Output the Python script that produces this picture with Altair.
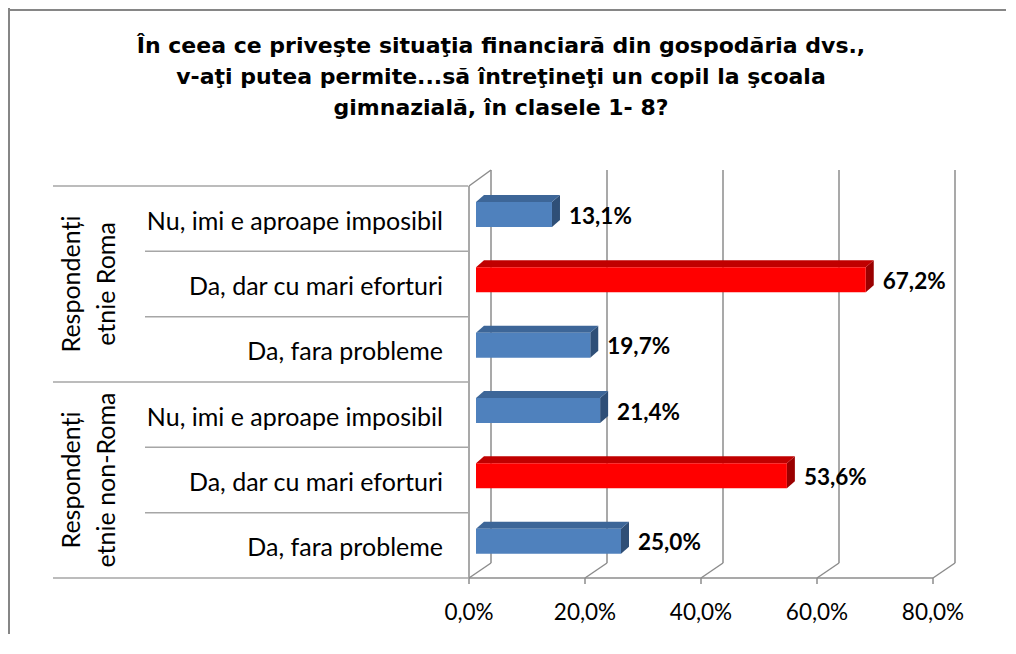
import altair as alt
import pandas as pd

# ---------------- data ----------------
title_lines = [
    "În ceea ce priveşte situaţia financiară din gospodăria dvs.,",
    "v-aţi putea permite...să întreţineţi un copil la şcoala",
    "gimnazială, în clasele 1- 8?",
]
group_names = [["Respondenți", "etnie Roma"], ["Respondenți", "etnie non-Roma"]]
categories = ["Nu, imi e aproape imposibil", "Da, dar cu mari eforturi", "Da, fara probleme"]
roma_values = [13.1, 67.2, 19.7]
non_roma_values = [21.4, 53.6, 25.0]
tick_values = [0, 20, 40, 60, 80]
tick_labels = ["0,0%", "20,0%", "40,0%", "60,0%", "80,0%"]
highlight_category = "Da, dar cu mari eforturi"

# ---------------- layout / style ----------------
W, H = 998, 626
X_RANGE = [461, 925]
Y_RANGE = [178, 570]
N_ROWS = 6
PX_X = (X_RANGE[1] - X_RANGE[0]) / (tick_values[-1] - tick_values[0])
PX_ROW = (Y_RANGE[1] - Y_RANGE[0]) / N_ROWS
BAR_SHIFT = 7
FACE_TOP, FACE_BOTTOM = 16, 41
BAR_DX, BAR_DY = 8, 7
WALL_DX, WALL_DY = 22, 15
GRID = "#8c8c8c"
TABLE = "#a6a6a6"
LABEL_FONT = "Lato"
TITLE_FONT = "DejaVu Sans"

face_keys = ["front_n", "front_h", "top_n", "top_h", "side_n", "side_h"]
face_colors = ["#4f81bd", "#ff0000", "#3d6698", "#c00000", "#2f4f77", "#9a0000"]

xs = alt.Scale(domain=[tick_values[0], tick_values[-1]], range=X_RANGE, nice=False, zero=False)
ys = alt.Scale(domain=[0, N_ROWS], range=Y_RANGE, nice=False, zero=False)
cs = alt.Scale(domain=face_keys, range=face_colors)

rows = []
for g, vals in enumerate([roma_values, non_roma_values]):
    for c, (cat, v) in enumerate(zip(categories, vals)):
        rows.append(dict(
            id=g * 3 + c, category=cat, value=v,
            kind="h" if cat == highlight_category else "n",
            label=f"{v:.1f}%".replace(".", ","),
        ))
bars = pd.DataFrame(rows)
shift = BAR_SHIFT / PX_X
ddx = BAR_DX / PX_X
ddy = BAR_DY / PX_ROW
bars["xa"] = tick_values[0]
bars["x0"] = shift
bars["x1"] = shift + bars["value"]
bars["y_top"] = bars["id"] + FACE_TOP / PX_ROW
bars["y_bot"] = bars["id"] + FACE_BOTTOM / PX_ROW
bars["y_mid"] = bars["id"] + 0.5
bars["face"] = "front_" + bars["kind"]

top_rows, side_rows = [], []
for r in bars.itertuples():
    top_rows.append(dict(id=r.id, y=r.y_top, xa=r.x0, xb=r.x1, face="top_" + r.kind))
    top_rows.append(dict(id=r.id, y=r.y_top - ddy, xa=r.x0 + ddx, xb=r.x1 + ddx, face="top_" + r.kind))
    side_rows.append(dict(id=r.id, x=r.x1, ya=r.y_top, yb=r.y_bot, face="side_" + r.kind))
    side_rows.append(dict(id=r.id, x=r.x1 + ddx, ya=r.y_top - ddy, yb=r.y_bot - ddy, face="side_" + r.kind))
tops = pd.DataFrame(top_rows)
sides = pd.DataFrame(side_rows)

ticks = pd.DataFrame({"t": tick_values, "label": tick_labels})
ticks["y0"] = 0
ticks["y1"] = N_ROWS
axis_df = pd.DataFrame({"xa": [tick_values[0]], "xb": [tick_values[-1]], "ya": [0], "yb": [N_ROWS]})
bounds = pd.DataFrame({"b": list(range(N_ROWS + 1))})
bounds["xa"] = tick_values[0]
bounds["kind"] = ["group" if b % 3 == 0 else "cat" for b in bounds["b"]]
groups = pd.DataFrame({"name": group_names, "yc": [1.5, 4.5]})
title_df = pd.DataFrame({"text": [title_lines]})
# chart frame (left and top edges), in scale units
frame_df = pd.DataFrame({
    "fx0": [(0 - X_RANGE[0]) / PX_X], "fx1": [(W - X_RANGE[0]) / PX_X],
    "fy0": [(0 - Y_RANGE[0]) / PX_ROW], "fy1": [(H - Y_RANGE[0]) / PX_ROW],
})


def X(f):
    return alt.X(f, type="quantitative", scale=xs, axis=None)


def Y(f):
    return alt.Y(f, type="quantitative", scale=ys, axis=None)


# ---------------- layers ----------------
grid_back = alt.Chart(ticks).mark_rule(
    color=GRID, strokeWidth=1.5, xOffset=WALL_DX, yOffset=-WALL_DY - 1, y2Offset=-WALL_DY
).encode(x=X("t"), y=Y("y0"), y2="y1")

grid_floor = alt.Chart(ticks).mark_rule(
    color=GRID, strokeWidth=1.5, x2Offset=WALL_DX, y2Offset=-WALL_DY
).encode(x=X("t"), x2="t", y=Y("y1"), y2="y1")

tick_marks = alt.Chart(ticks).mark_rule(color=GRID, strokeWidth=1.5, y2Offset=6).encode(
    x=X("t"), y=Y("y1"), y2="y1"
)

base_line = alt.Chart(axis_df).mark_rule(color=GRID, strokeWidth=1.5).encode(
    x=X("xa"), x2="xb", y=Y("yb"), y2="yb"
)
left_axis = alt.Chart(axis_df).mark_rule(color=GRID, strokeWidth=1.5).encode(
    x=X("xa"), x2="xa", y=Y("ya"), y2="yb"
)
corner = alt.Chart(axis_df).mark_rule(
    color=GRID, strokeWidth=1.5, x2Offset=WALL_DX, y2Offset=-WALL_DY - 1
).encode(x=X("xa"), x2="xa", y=Y("ya"), y2="ya")

table_group = alt.Chart(bounds).transform_filter(alt.datum.kind == "group").mark_rule(
    color=TABLE, strokeWidth=1.5, xOffset=-416, x2Offset=-1
).encode(x=X("xa"), x2="xa", y=Y("b"), y2="b")
table_cat = alt.Chart(bounds).transform_filter(alt.datum.kind == "cat").mark_rule(
    color=TABLE, strokeWidth=1.5, xOffset=-324, x2Offset=-1
).encode(x=X("xa"), x2="xa", y=Y("b"), y2="b")

side_faces = alt.Chart(sides).mark_area(orient="vertical").encode(
    x=X("x"), y=alt.Y("ya:Q", scale=ys, axis=None, stack=None), y2="yb:Q",
    detail="id:N", color=alt.Color("face:N", scale=cs, legend=None),
)
top_faces = alt.Chart(tops).mark_area(orient="horizontal").encode(
    y=Y("y"), x=alt.X("xa:Q", scale=xs, axis=None, stack=None), x2="xb:Q",
    detail="id:N", color=alt.Color("face:N", scale=cs, legend=None),
)
front_faces = alt.Chart(bars).mark_rect().encode(
    x=X("x0"), x2="x1", y=Y("y_top"), y2="y_bot",
    color=alt.Color("face:N", scale=cs, legend=None),
)

value_text = alt.Chart(bars).mark_text(
    align="left", baseline="middle", dx=BAR_DX + 9, dy=-2,
    font=LABEL_FONT, fontSize=22.5, fontWeight="bold", color="#000000",
).encode(x=X("x1"), y=Y("y_mid"), text="label:N")

cat_text = alt.Chart(bars).mark_text(
    align="right", baseline="middle", dx=-26, dy=3,
    font=LABEL_FONT, fontSize=25, color="#000000",
).encode(x=X("xa"), y=Y("y_mid"), text="category:N")

tick_text = alt.Chart(ticks).mark_text(
    align="center", baseline="middle", dy=35,
    font=LABEL_FONT, fontSize=22.5, color="#000000",
).encode(x=X("t"), y=Y("y1"), text="label:N")

group_text = alt.Chart(groups).mark_text(
    align="center", baseline="middle", angle=270, lineHeight=35,
    font=LABEL_FONT, fontSize=25, color="#000000",
).encode(x=alt.value(64), y=Y("yc"), text="name:N")

title_text = alt.Chart(title_df).mark_text(
    align="center", baseline="middle", lineHeight=31,
    font=TITLE_FONT, fontSize=22, fontWeight="bold", color="#000000",
).encode(x=alt.value(493), y=alt.value(38), text="text:N")

frame_left = alt.Chart(frame_df).mark_rect(color="#868686", x2Offset=2).encode(
    x=X("fx0"), x2="fx0", y=Y("fy0"), y2="fy1"
)
frame_top = alt.Chart(frame_df).mark_rect(color="#868686", yOffset=1, y2Offset=3).encode(
    x=X("fx0"), x2="fx1", y=Y("fy0"), y2="fy0"
)

chart = alt.layer(
    grid_back, grid_floor, corner, tick_marks, base_line, left_axis,
    table_group, table_cat,
    side_faces, top_faces, front_faces,
    value_text, cat_text, tick_text, group_text, title_text,
    frame_left, frame_top,
).properties(
    width=W, height=H, autosize="none", padding=0
).configure_view(stroke=None)

chart.save("out.html", embed_options={"renderer": "svg", "actions": False})
